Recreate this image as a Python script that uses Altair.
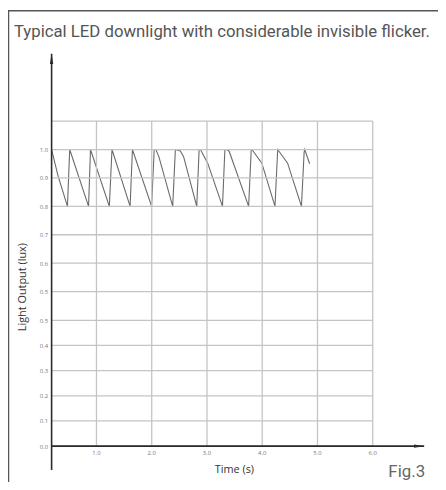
import altair as alt
import pandas as pd

# ---------------- data ----------------
TITLE = "Typical LED downlight with considerable invisible flicker."
X_TITLE = "Time (s)"
Y_TITLE = "Light Output (lux)"
FIG_LABEL = "Fig.3"

# flicker waveform (time in s, light output in lux as read on the axis labels)
TIME = [0.188, 0.306, 0.475, 0.516, 0.857, 0.892, 1.233, 1.281, 1.609, 1.651,
        1.998, 2.045, 2.075, 2.129, 2.380, 2.428, 2.518, 2.577, 2.815, 2.858,
        2.882, 3.013, 3.281, 3.324, 3.353, 3.401, 3.754, 3.801, 3.814, 3.993,
        4.231, 4.280, 4.459, 4.710, 4.758, 4.769, 4.858]
LUX = [1.0, 0.906, 0.8, 1.0, 0.8, 1.0, 0.8, 1.0, 0.8, 1.0,
       0.8, 1.0, 1.0, 0.975, 0.8, 1.0, 0.995, 0.975, 0.8, 1.0,
       1.0, 0.952, 0.8, 1.0, 1.0, 0.994, 0.8, 1.0, 1.0, 0.952,
       0.8, 1.0, 0.952, 0.8, 0.99, 1.0, 0.95]

X_TICKS = [1.0, 2.0, 3.0, 4.0, 5.0, 6.0]
X_TICK_LABELS = ["1.0", "2.0", "3.0", "4.0", "5.0", "6.0"]
# the printed axis repeats "0.5"; the 13th gridline carries no label
Y_TICK_LABELS = ["0.0", "0.1", "0.2", "0.3", "0.4", "0.5", "0.5",
                 "0.6", "0.7", "0.8", "0.9", "1.0", ""]

# ---------------- layout / scales ----------------
W, H = 376, 420
X_DOMAIN = [0.188, 6.93]                     # axis origin .. arrow tip
Y_DOMAIN = [-0.0945, 0.5, 0.6, 1.437]        # gridline index positions (piecewise)
Y_RANGE = [H, 269, 240, 0]

GRID_POS = [i / 10 for i in range(len(Y_TICK_LABELS))]
GRID_TOP = GRID_POS[-1]

x_scale = alt.Scale(domain=X_DOMAIN, nice=False, zero=False)
y_scale = alt.Scale(domain=Y_DOMAIN, range=Y_RANGE, nice=False, zero=False)

label_js = "[" + ",".join("'%s'" % s for s in Y_TICK_LABELS) + "]"

x_axis = alt.Axis(title=X_TITLE, labels=False, ticks=False, domain=False, grid=False,
                  titleX=184, titleY=0, titleBaseline="middle",
                  titleFont="Open Sans", titleFontSize=11, titleFontWeight="normal",
                  titleColor="#333")
y_axis = alt.Axis(title=Y_TITLE, values=GRID_POS[:-1],
                  labelExpr=label_js + "[round(datum.value*10)]",
                  ticks=False, domain=False, grid=False, labelPadding=4,
                  labelFont="Open Sans", labelFontSize=6, labelColor="#777",
                  titleX=-29, titleY=235, titleAngle=-90, titleBaseline="middle",
                  titleFont="Open Sans", titleFontSize=11, titleFontWeight="normal",
                  titleColor="#333")

wave = pd.DataFrame({"t": TIME, "lux": LUX})
hgrid = pd.DataFrame({"pos": GRID_POS, "x0": X_DOMAIN[0], "x1": X_TICKS[-1]})
vgrid = pd.DataFrame({"t": X_TICKS, "y0": 0.0, "y1": GRID_TOP})
xlab = pd.DataFrame({"t": X_TICKS, "label": X_TICK_LABELS, "y": 0.0})
axes_df = pd.DataFrame({"x0": [X_DOMAIN[0]], "x1": [X_DOMAIN[1]],
                        "y0": [Y_DOMAIN[0]], "y1": [Y_DOMAIN[-1]], "zero": [0.0]})

GRID_COLOR = "#c4c4c4"
AXIS_COLOR = "#2a2a2a"


def X(field):
    return alt.X(field, scale=x_scale, axis=x_axis)


def Y(field):
    return alt.Y(field, scale=y_scale, axis=y_axis)


hgrid_layer = alt.Chart(hgrid).mark_rule(color=GRID_COLOR, strokeWidth=1.3).encode(
    x=X("x0:Q"), x2="x1:Q", y=Y("pos:Q"),
)
vgrid_layer = alt.Chart(vgrid).mark_rule(color=GRID_COLOR, strokeWidth=1.3).encode(
    x=X("t:Q"), y=Y("y0:Q"), y2="y1:Q",
)

wave_layer = alt.Chart(wave).transform_calculate(
    pos="datum.lux + 0.1"   # shift caused by the repeated 0.5 label on the printed axis
).mark_line(color="#6a6a6a", strokeWidth=1.1).encode(
    x=X("t:Q"), y=Y("pos:Q"), order="t:Q",
)

xlab_layer = alt.Chart(xlab).mark_text(font="Open Sans", fontSize=6, color="#777",
                                       baseline="middle", dy=7).encode(
    x=X("t:Q"), y=Y("y:Q"), text="label:N",
)

xaxis_line = alt.Chart(axes_df).mark_rule(color=AXIS_COLOR, strokeWidth=1.6).encode(
    x=X("x0:Q"), x2="x1:Q", y=Y("zero:Q"),
)
yaxis_line = alt.Chart(axes_df).mark_rule(color=AXIS_COLOR, strokeWidth=1.6).encode(
    x=X("x0:Q"), y=Y("y0:Q"), y2="y1:Q",
)
x_arrow = alt.Chart(axes_df).mark_point(
    shape="M-1,-0.32L1,0L-1,0.32Z", filled=True, size=110, color=AXIS_COLOR,
    opacity=1, xOffset=-5).encode(
    x=X("x1:Q"), y=Y("zero:Q"),
)
y_arrow = alt.Chart(axes_df).mark_point(
    shape="M-0.32,1L0,-1L0.32,1Z", filled=True, size=110, color=AXIS_COLOR,
    opacity=1, yOffset=5).encode(
    x=X("x0:Q"), y=Y("y1:Q"),
)

border = alt.Chart(pd.DataFrame({"a": [0]})).mark_rect(
    filled=False, stroke="#555", strokeWidth=1.5).encode(
    x=alt.value(-43.5), x2=alt.value(700), y=alt.value(-43.5), y2=alt.value(900),
)
fig_label = alt.Chart(pd.DataFrame({"label": [FIG_LABEL]})).mark_text(
    font="Roboto", fontSize=17, color="#666", align="right", baseline="alphabetic").encode(
    x=alt.value(377), y=alt.value(427), text="label:N",
)

chart = alt.layer(
    wave_layer, border, hgrid_layer, vgrid_layer, xlab_layer,
    xaxis_line, yaxis_line, x_arrow, y_arrow, fig_label,
).properties(
    width=W, height=H,
    title=alt.TitleParams(TITLE, anchor="start", frame="group", dx=-38, offset=-44,
                          baseline="alphabetic",
                          font="Roboto", fontSize=16.9, fontWeight="normal", color="#555"),
    autosize=alt.AutoSizeParams(type="none"),
    padding={"left": 44, "top": 44, "right": 14, "bottom": 10},
).configure_view(stroke=None)

chart.save("out.html", embed_options={"renderer": "svg", "actions": False})
